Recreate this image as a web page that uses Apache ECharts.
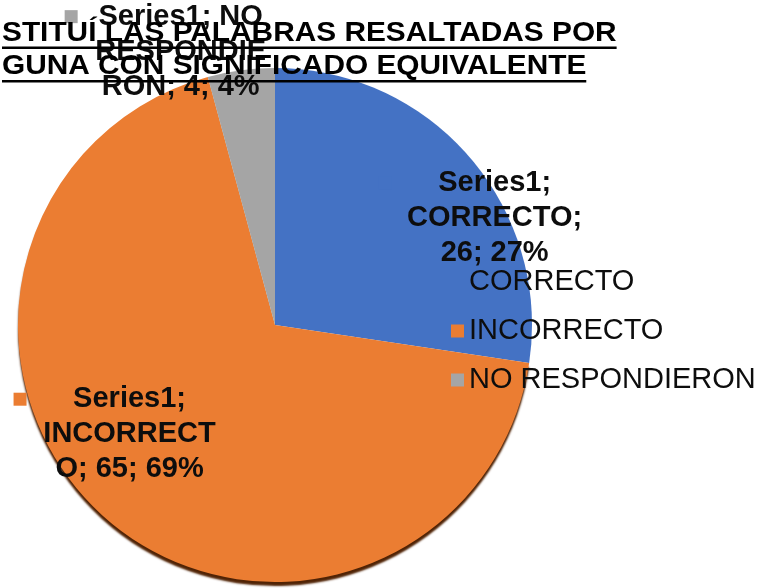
<!DOCTYPE html>
<html>
<head>
<meta charset="utf-8">
<script src="https://cdn.jsdelivr.net/npm/echarts@6/dist/echarts.min.js"></script>
<style>
html,body{margin:0;padding:0;background:#fff;}
#chart{width:772px;height:588px;}
</style>
</head>
<body>
<div id="chart"></div>
<script>
// ---- data ----
const seriesName = 'Series1';
const categories = ['CORRECTO', 'INCORRECTO', 'NO RESPONDIERON'];
const values = [26, 65, 4];
const titleLines = ['STITUÍ LAS PALABRAS RESALTADAS POR', 'GUNA CON SIGNIFICADO EQUIVALENTE'];

// ---- styles ----
const colors = ['#4472C4', '#EB7D32', '#A5A5A5'];
const FONT = '"Liberation Sans", Arial, Helvetica, sans-serif';
const LABEL_SIZE = 29;
const WRAP_W = 182;
const TITLE_SIZE = 28;
const TITLE_SCALE = 1.065;

const ctx = document.createElement('canvas').getContext('2d');
function measure(t, size, bold) {
  ctx.font = (bold ? 'bold ' : '') + size + 'px ' + FONT;
  return ctx.measureText(t).width;
}
function wrap(text) {
  const words = text.split(' ');
  const lines = [];
  let line = '';
  for (const word of words) {
    const cand = line ? line + ' ' + word : word;
    if (measure(cand, LABEL_SIZE, true) <= WRAP_W) { line = cand; continue; }
    if (line) { lines.push(line); line = ''; }
    let w = word;
    while (measure(w, LABEL_SIZE, true) > WRAP_W) {
      let k = w.length;
      while (k > 1 && measure(w.slice(0, k), LABEL_SIZE, true) > WRAP_W) k--;
      lines.push(w.slice(0, k));
      w = w.slice(k);
    }
    line = w;
  }
  if (line) lines.push(line);
  return lines;
}

// label layout adjustments (Excel best-fit placement)
const labelOffsets = [[120, -21], [-58, 11], [-77, -143]];

const SQ = 13;
const rich = { t: { width: SQ, height: SQ } };
categories.forEach((c, i) => {
  const first = wrap(seriesName + '; ' + c + '; 0; 0%')[0];
  const gap = (WRAP_W - measure(first, LABEL_SIZE, true)) / 2 + 12;
  rich['sq' + i] = { width: SQ, height: SQ, backgroundColor: colors[i] };
  rich['g' + i] = { width: gap, height: SQ };
});

const data = categories.map((c, i) => ({
  name: c,
  value: values[i],
  itemStyle: i === 1 ? {
    color: colors[i],
    shadowColor: 'rgba(80,35,5,1)', shadowBlur: 2, shadowOffsetX: 0, shadowOffsetY: 4
  } : { color: colors[i] },
  label: { offset: labelOffsets[i] }
}));

const chart = echarts.init(document.getElementById('chart'), null, { renderer: 'canvas' });

const titleGraphics = [];
titleLines.forEach((t, i) => {
  const cy = i === 0 ? 33.5 : 66.5;
  const uy = i === 0 ? 46.5 : 80;
  const w = measure(t, TITLE_SIZE, true) * TITLE_SCALE;
  titleGraphics.push({
    type: 'text', x: 2, y: cy, scaleX: TITLE_SCALE, z: 100,
    style: { text: t, font: 'bold ' + TITLE_SIZE + 'px ' + FONT, fill: '#000', verticalAlign: 'middle', align: 'left' }
  });
  titleGraphics.push({
    type: 'rect', z: 100,
    shape: { x: 2, y: uy, width: w, height: 2.5 },
    style: { fill: '#000' }
  });
});

chart.setOption({
  animation: false,
  backgroundColor: '#fff',
  legend: {
    orient: 'vertical',
    left: 446,
    top: 262.5,
    icon: 'rect',
    itemWidth: SQ,
    itemHeight: SQ,
    itemGap: 20,
    selectedMode: false,
    data: categories,
    textStyle: { fontSize: 29, color: '#0d0d0d', fontFamily: FONT, lineHeight: 29 }
  },
  graphic: titleGraphics,
  series: [{
    type: 'pie',
    name: seriesName,
    center: [275, 325],
    radius: 257,
    startAngle: 90,
    clockwise: true,
    percentPrecision: 0,
    avoidLabelOverlap: false,
    emphasis: { disabled: true },
    labelLine: { show: false },
    label: {
      show: true,
      position: 'inside',
      fontFamily: FONT,
      fontSize: LABEL_SIZE,
      fontWeight: 'bold',
      color: '#0d0d0d',
      lineHeight: 35,
      align: 'center',
      formatter: function (p) {
        const lines = wrap(p.seriesName + '; ' + p.name + '; ' + p.value + '; ' + p.percent + '%');
        lines[0] = '{sq' + p.dataIndex + '|}{g' + p.dataIndex + '|}' + lines[0] + '{g' + p.dataIndex + '|}{t|}';
        return lines.join('\n');
      },
      rich: rich
    },
    data: data
  }]
});
</script>
</body>
</html>
